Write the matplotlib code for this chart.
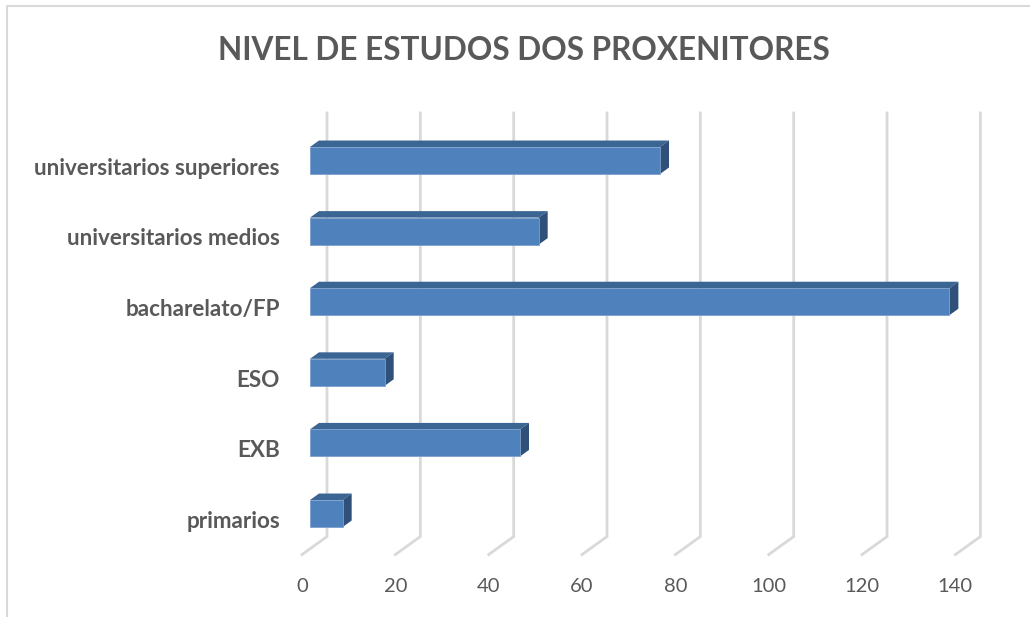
import matplotlib
matplotlib.use('Agg')
import matplotlib.pyplot as plt
from matplotlib.patches import Polygon
from matplotlib.lines import Line2D
import numpy as np

categories = ['primarios', 'EXB', 'ESO', 'bacharelato/FP',
              'universitarios medios', 'universitarios superiores']
values = [7, 45, 16, 137, 49, 75]
ticks = [0, 20, 40, 60, 80, 100, 120, 140]
title = 'NIVEL DE ESTUDOS DOS PROXENITORES'

front = '#4f81bd'
top_c = '#3b6592'
side_c = '#2e5079'
grid_c = '#d9d9d9'
text_c = '#595959'

plt.rcParams['font.family'] = ['Lato', 'DejaVu Sans']

fig = plt.figure(figsize=(10.30, 6.17), dpi=100)

# axes placed in pixels: x 290..1010, y 100..570
ax = fig.add_axes([290 / 1030, 47 / 617, 720 / 1030, 470 / 617])
ax.set_xlim(-20 / 4.667, 700 / 4.667)
ax.set_ylim((513.5 - 570) / 70.6, (513.5 - 100) / 70.6)
ax.axis('off')

# depth vector (front of floor -> back wall) in data units
dv, dr = 25 / 4.667, 18 / 70.6


def pt(v, r, d):
    return (v + d * dv, r + d * dr)


d_front, d_back, d_bar = -0.32, 0.68, 0.36
r_lo, r_hi = -0.5, 5.5

# gridlines on back wall + floor
for t in ticks:
    x0, y0 = pt(t, r_hi, d_back)
    x1, y1 = pt(t, r_lo, d_back)
    x2, y2 = pt(t, r_lo, d_front)
    ax.plot([x0, x1, x2], [y0, y1, y2], color=grid_c, lw=2, zorder=1,
            solid_joinstyle='miter')
    ax.annotate(str(t), (x2, y2), xytext=(0, -32), textcoords='offset pixels',
                ha='center', va='center', fontsize=14.5, color=text_c)

rows = np.arange(len(categories))
h = 27 / 70.6
ax.barh(rows, values, height=h, left=0, color=front, edgecolor='#7d9fcc',
        linewidth=0.6, zorder=3)

for r, v in zip(rows, values):
    yt, yb = r + h / 2, r - h / 2
    top = [pt(0, yt, 0), pt(v, yt, 0), pt(v, yt, d_bar), pt(0, yt, d_bar)]
    side = [pt(v, yb, 0), pt(v, yt, 0), pt(v, yt, d_bar), pt(v, yb, d_bar)]
    ax.add_patch(Polygon(top, closed=True, facecolor=top_c, edgecolor='none', zorder=2))
    ax.add_patch(Polygon(side, closed=True, facecolor=side_c, edgecolor='none', zorder=2))

for r, c in zip(rows, categories):
    ax.annotate(c, pt(0, r, d_front), xytext=(-22, -2), textcoords='offset pixels',
                ha='right', va='center', fontsize=16.2, fontweight='bold', color=text_c)

fig.text(524 / 1030, 1 - 51 / 617, title, ha='center', va='center',
         fontsize=22.7, fontweight='bold', color=text_c)

# chart area border (left and top edges visible)
fig.add_artist(Line2D([7 / 1030, 7 / 1030, 1.0], [0, 1 - 6 / 617, 1 - 6 / 617],
                      color=grid_c, lw=1.5))

fig.savefig('out.png', dpi=100)
